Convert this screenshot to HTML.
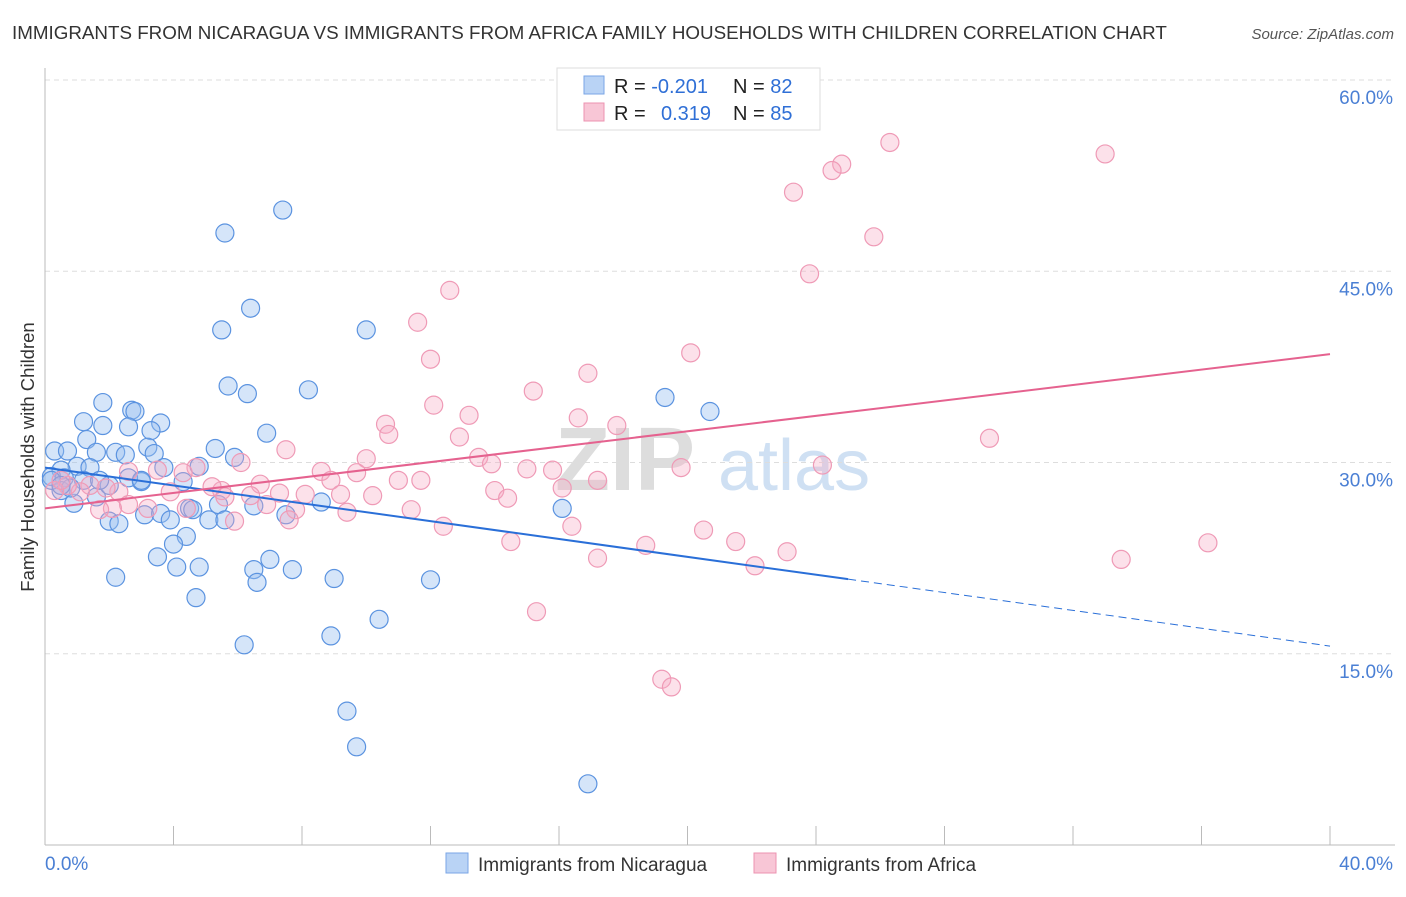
<!DOCTYPE html>
<html><head><meta charset="utf-8"><style>
body{margin:0;background:#fff;font-family:"Liberation Sans",sans-serif;}
svg text{font-family:"Liberation Sans",sans-serif;}
</style></head><body>
<svg id="chart" width="1406" height="892" viewBox="0 0 1406 892" xmlns="http://www.w3.org/2000/svg">
<text x="12" y="39" font-size="18.8" fill="#333">IMMIGRANTS FROM NICARAGUA VS IMMIGRANTS FROM AFRICA FAMILY HOUSEHOLDS WITH CHILDREN CORRELATION CHART</text>
<text x="1394" y="39" font-size="15" fill="#555" font-style="italic" text-anchor="end">Source: ZipAtlas.com</text>
<g>
<text x="555" y="490" font-size="90" fill="#ddd" font-family="Liberation Serif,serif" font-weight="bold">ZIP</text>
<text x="718" y="490" font-size="72" fill="#cfe0f3">atlas</text>
</g>
<g id="grid"></g>
<g id="axes"></g>
<g id="marks"></g>
<text transform="translate(34,457) rotate(-90)" font-size="18.5" fill="#333" text-anchor="middle">Family Households with Children</text>
<g>
<rect x="557" y="68" width="263" height="62" fill="#fff" stroke="#ddd"/>
<rect x="584" y="76" width="20" height="18" fill="#b9d3f5" stroke="#7aa6e6"/>
<rect x="584" y="103" width="20" height="18" fill="#f8c6d6" stroke="#ec93b0"/>
<text x="614" y="93" font-size="20" fill="#222">R = <tspan fill="#2f6fd6">-0.201</tspan><tspan x="733">N = </tspan><tspan fill="#2f6fd6">82</tspan></text>
<text x="614" y="120" font-size="20" fill="#222">R = <tspan x="661" fill="#2f6fd6">0.319</tspan><tspan x="733">N = </tspan><tspan fill="#2f6fd6">85</tspan></text>
</g>
<g>
<rect x="446" y="853" width="22" height="20" fill="#b9d3f5" stroke="#7aa6e6"/>
<text x="478" y="871" font-size="19" fill="#333">Immigrants from Nicaragua</text>
<rect x="754" y="853" width="22" height="20" fill="#f8c6d6" stroke="#ec93b0"/>
<text x="786" y="871" font-size="19" fill="#333">Immigrants from Africa</text>
</g>
</svg>
<script>
const blueX=[7.4,5.6,6.4,5.5,10.0,5.7,6.3,8.2,1.8,2.7,2.8,1.2,1.8,2.6,3.6,3.3,6.9,1.3,0.3,0.7,2.2,2.5,3.2,3.4,5.3,5.9,1.6,1.0,1.4,0.5,0.2,0.6,0.5,0.9,1.6,2.0,3.0,3.7,4.8,4.3,4.5,5.4,4.6,3.1,3.6,3.9,2.0,2.3,5.1,5.6,6.5,7.5,8.6,4.4,4.0,3.5,4.8,4.1,7.0,6.5,7.7,2.2,6.6,9.0,12.0,4.7,8.9,10.4,6.2,9.4,9.7,16.9,19.3,20.7,16.1,0.2,1.2,0.8,1.7,2.6,3.0,0.5];
const blueY=[49.8,48.0,42.1,40.4,40.4,36.0,35.4,35.7,34.7,34.1,34.0,33.2,32.9,32.8,33.1,32.5,32.3,31.8,30.9,30.9,30.8,30.6,31.2,30.7,31.1,30.4,30.8,29.7,29.6,29.4,28.9,28.8,27.8,26.8,27.3,28.2,28.5,29.6,29.7,28.5,26.4,26.7,26.3,25.9,26.0,25.5,25.4,25.2,25.5,25.5,26.6,25.9,26.9,24.2,23.6,22.6,21.8,21.8,22.4,21.6,21.6,21.0,20.6,20.9,20.8,19.4,16.4,17.7,15.7,10.5,7.7,4.8,35.1,34.0,26.4,28.6,28.6,28.0,28.6,28.8,28.6,28.2];
const pinkX=[26.3,24.8,24.5,33.0,23.3,25.8,23.8,12.6,11.6,12.0,20.1,16.9,15.2,12.1,13.2,16.6,17.8,10.6,10.7,12.9,7.5,6.1,13.5,13.9,10.0,9.7,8.6,8.9,11.0,15.0,15.8,17.2,19.8,24.2,29.4,14.0,14.4,16.1,10.2,9.2,8.1,7.3,6.7,6.4,5.5,5.2,5.6,4.7,4.3,3.9,3.5,2.6,2.3,1.9,1.4,1.1,0.7,0.3,0.5,2.6,2.1,1.7,3.2,4.4,5.9,6.9,7.8,9.4,11.4,12.4,16.4,14.5,20.5,21.5,23.1,18.7,22.1,17.2,33.5,36.2,15.3,19.2,19.5,11.7,7.6];
const pinkY=[55.1,53.4,52.9,54.2,51.2,47.7,44.8,43.5,41.0,38.1,38.6,37.0,35.6,34.5,33.7,33.5,32.9,33.0,32.2,32.0,31.0,30.0,30.4,29.9,30.3,29.2,29.3,28.6,28.6,29.5,29.4,28.6,29.6,29.8,31.9,27.8,27.2,28.0,27.4,27.5,27.5,27.6,28.3,27.4,27.8,28.1,27.3,29.6,29.2,27.7,29.4,29.3,27.7,28.0,28.2,27.7,28.2,27.8,28.6,26.7,26.4,26.3,26.4,26.4,25.4,26.7,26.3,26.1,26.3,25.0,25.0,23.8,24.7,23.8,23.0,23.5,21.9,22.5,22.4,23.7,18.3,13.0,12.4,28.6,25.5];
const yTicks=[15,30,45,60];
const yTickLabels=["15.0%","30.0%","45.0%","60.0%"];
const xTicks=[0,4,8,12,16,20,24,28,32,36,40];
const blueFit=[29.6,15.6]; const blueSolidEnd=25.0;
const pinkFit=[26.4,38.5];
const NS="http://www.w3.org/2000/svg";
const sx=v=>45+v*32.125, sy=v=>845-v*12.75;
function mk(tag,attrs,parent){const e=document.createElementNS(NS,tag);for(const k in attrs)e.setAttribute(k,attrs[k]);parent.appendChild(e);return e;}
const grid=document.getElementById('grid'),axes=document.getElementById('axes'),marks=document.getElementById('marks');
yTicks.forEach((t,i)=>{
 const l=mk('line',{x1:45,x2:1395,y1:sy(t),y2:sy(t),stroke:'#ddd','stroke-dasharray':'5,4'},grid);
 
 
 const tx=mk('text',{x:1393,y:sy(t)+24,'font-size':19,fill:'#4a7fd4','text-anchor':'end'},axes);
 tx.textContent=yTickLabels[i];
 
 
});
const al=mk('line',{x1:45,x2:45,y1:68,y2:845,stroke:'#bbb'},axes);


const bl=mk('line',{x1:45,x2:1395,y1:845,y2:845,stroke:'#bbb'},axes);


xTicks.forEach(t=>{const l=mk('line',{x1:sx(t),x2:sx(t),y1:826,y2:845,stroke:'#bbb'},axes);
 
 });
const x0=mk('text',{x:45,y:870,'font-size':19,fill:'#4a7fd4'},axes);x0.textContent='0.0%';


const x1=mk('text',{x:1393,y:870,'font-size':19,fill:'#4a7fd4','text-anchor':'end'},axes);x1.textContent='40.0%';


blueX.forEach((v,i)=>{const c=mk('circle',{cx:sx(v),cy:sy(blueY[i]),r:9,fill:'rgba(150,190,240,0.4)',stroke:'#5b93e0','stroke-width':1.2},marks);
 
 });
pinkX.forEach((v,i)=>{const c=mk('circle',{cx:sx(v),cy:sy(pinkY[i]),r:9,fill:'rgba(245,170,195,0.35)',stroke:'#ef9ab6','stroke-width':1.2},marks);
 
 });
const bAt=x=>blueFit[0]+(blueFit[1]-blueFit[0])*x/40;
const b1=mk('line',{x1:sx(0),y1:sy(bAt(0)),x2:sx(blueSolidEnd),y2:sy(bAt(blueSolidEnd)),stroke:'#2a6fd8','stroke-width':2},marks);


const b2=mk('line',{x1:sx(blueSolidEnd),y1:sy(bAt(blueSolidEnd)),x2:sx(40),y2:sy(bAt(40)),stroke:'#2a6fd8','stroke-width':1,'stroke-dasharray':'8,5'},marks);


const p1=mk('line',{x1:sx(0),y1:sy(pinkFit[0]),x2:sx(40),y2:sy(pinkFit[1]),stroke:'#e5628f','stroke-width':2},marks);


</script>
</body></html>
